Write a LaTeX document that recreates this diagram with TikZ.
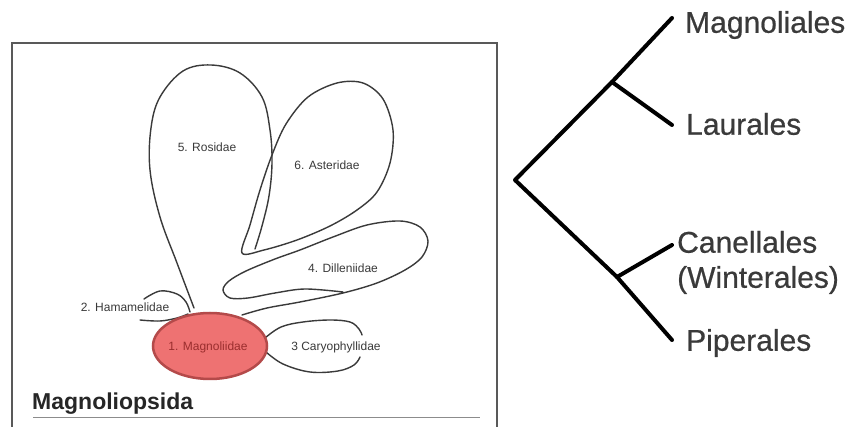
\documentclass[tikz,border=0pt]{standalone}
\usepackage{fontspec}
\setmainfont{Liberation Sans}
\newfontfamily\taxafont[FakeBold=0.6]{Liberation Sans}
\usetikzlibrary{shapes.geometric}
\definecolor{petalline}{HTML}{3A3A3A}
\definecolor{salmon}{HTML}{EE7272}
\definecolor{salmonedge}{HTML}{B44A4A}
\definecolor{magtext}{HTML}{9A2E2E}
\definecolor{labelgray}{HTML}{3A3A3A}
\tikzset{
  petal/.style={draw=petalline, line width=1.4pt, line join=round, line cap=round},
  petaltext/.style={font=\fontsize{12}{13}\selectfont, text=labelgray, inner sep=0pt},
  branch/.style={draw=black, line width=4pt, line cap=round, line join=round},
  taxon/.style={font=\taxafont\fontsize{30}{32}\selectfont, text=labelgray, inner sep=0pt, anchor=west, align=left},
  frame/.style={draw=black!65, line width=1.5pt},
  core/.style={ellipse, draw=salmonedge, fill=salmon, line width=2.5pt, minimum width=114pt, minimum height=66pt, inner sep=0pt},
}
\begin{document}
\begin{tikzpicture}[x=1pt,y=-1pt]
\useasboundingbox (0,0) rectangle (855,427);
\fill[white] (0,0) rectangle (855,427);

% frame of the left picture
\draw[frame] (12,427) -- (12,43) -- (497,43) -- (497,427);

% Rosidae (open at the bottom, ends in the Asteridae spike)
\draw[petal] plot[smooth, tension=0.6] coordinates {(194,308) (177,263) (160,217) (150,170) (151,128) (160,97) (183,71) (211,65) (240,73) (262,97) (270,130) (272,163) (269,196) (262,226) (255,249)};
% Asteridae
\draw[petal] plot[smooth cycle, tension=0.55] coordinates {(242,253) (250,225) (260,190) (272,155) (286,124) (308,97) (337,83) (363,83) (383,99) (393,130) (390,163) (377,192) (357,210) (330,226) (297,240) (264,250)};
% Dilleniidae
\draw[petal] plot[smooth, tension=0.55] coordinates {(343,292) (305,289) (275,293) (248,298) (230,298) (223,290) (229,281) (246,271) (275,259) (300,250) (333,237) (367,225) (400,221) (420,227) (428,241) (422,257) (405,270) (377,283) (343,293) (300,302) (267,308) (242,315)};
% Hamamelidae
\draw[petal] plot[smooth, tension=0.6] coordinates {(144,299) (160,291) (177,294) (186,302) (190,312)};
\draw[petal] plot[smooth, tension=0.6] coordinates {(140,320) (160,321) (177,318) (188,314)};
% Caryophyllidae
\draw[petal] plot[smooth, tension=0.6] coordinates {(265,338) (281,327) (303,322) (330,320) (350,322) (359,329) (362,335)};
\draw[petal] plot[smooth, tension=0.6] coordinates {(266,352) (283,364) (310,372) (338,371) (354,365) (360,357)};

% Magnoliidae
\node[core] (magnoliidae) at (210,346) {};
\node[petaltext, text=magtext] (maglabel) at (208,347) {1. Magnoliidae};

% petal labels
\node[petaltext] (ros) at (207,147) {5. Rosidae};
\node[petaltext] (ast) at (327,165) {6. Asteridae};
\node[petaltext] (dil) at (343,268) {4. Dilleniidae};
\node[petaltext] (ham) at (125,307) {2. Hamamelidae};
\node[petaltext] (car) at (336,347) {3 Caryophyllidae};

% class label and rule
\node[font=\bfseries\fontsize{23}{25}\selectfont, text=black!85, inner sep=0pt, anchor=base west] (cls) at (32,410) {Magnoliopsida};
\coordinate (ruleA) at (33,418);
\coordinate (ruleB) at (480,418);
\draw[black!45, line width=1pt] (ruleA) -- (ruleB);

% cladogram
\coordinate (root) at (515,180);
\coordinate (upper) at (612,82);
\coordinate (lower) at (617,277);
\coordinate (tipMag) at (672,18);
\coordinate (tipLau) at (672,125);
\coordinate (tipCan) at (672,245);
\coordinate (tipPip) at (672,340);
\draw[branch] (tipMag) -- (upper) -- (root) -- (lower) -- (tipPip);
\draw[branch] (upper) -- (tipLau);
\draw[branch] (lower) -- (tipCan);

\node[taxon] (mag) at (685,25) {Magnoliales};
\node[taxon] (lau) at (686,124) {Laurales};
\node[taxon] (can) at (677,242) {Canellales};
\node[taxon] (win) at (677,280) {(Winterales)};
\node[taxon] (pip) at (686,343) {Piperales};
\end{tikzpicture}
\end{document}
